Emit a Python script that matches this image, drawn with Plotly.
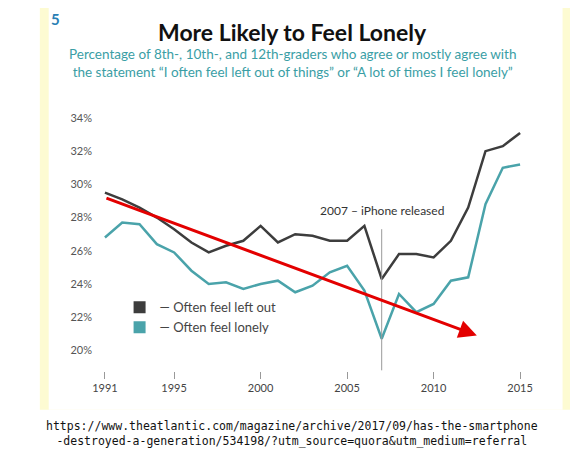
import plotly.graph_objects as go

years = list(range(1991, 2016))
left_out = [29.5, 29.1, 28.6, 28.0, 27.3, 26.5, 25.9, 26.3, 26.6, 27.5, 26.5, 27.0, 26.9,
            26.6, 26.6, 27.5, 24.3, 25.8, 25.8, 25.6, 26.6, 28.6, 32.0, 32.3, 33.1]
lonely = [26.8, 27.7, 27.6, 26.4, 25.9, 24.8, 24.0, 24.1, 23.7, 24.0, 24.2, 23.5, 23.9,
          24.7, 25.1, 23.6, 20.7, 23.4, 22.3, 22.8, 24.2, 24.4, 28.8, 31.0, 31.2]
y_ticks = [20, 22, 24, 26, 28, 30, 32, 34]
y_labels = [f"{v}%" for v in y_ticks]
x_ticks = [1991, 1995, 2000, 2005, 2010, 2015]

dark = "#3d3d3d"
teal = "#4aa3aa"

fig = go.Figure()
fig.add_trace(go.Scatter(x=years, y=left_out, mode="lines", line=dict(color=dark, width=2.5),
                         showlegend=False))
fig.add_trace(go.Scatter(x=years, y=lonely, mode="lines", line=dict(color=teal, width=2.5),
                         showlegend=False))
# legend swatches
fig.add_trace(go.Scatter(x=[None], y=[None], mode="markers", name="— Often feel left out",
                         marker=dict(symbol="square", size=15, color=dark)))
fig.add_trace(go.Scatter(x=[None], y=[None], mode="markers", name="— Often feel lonely",
                         marker=dict(symbol="square", size=15, color=teal)))

# cream background panel + white chart panel
fig.add_shape(type="rect", xref="paper", yref="paper", x0=-0.12, x1=1.095, y0=-0.145, y1=1.36,
              fillcolor="#fdfbd2", line_width=0, layer="below")
fig.add_shape(type="rect", xref="paper", yref="paper", x0=-0.1, x1=1.06, y0=-0.145, y1=1.36,
              fillcolor="white", line_width=0, layer="below")

fig.add_shape(type="line", x0=2007, x1=2007, y0=18.8, y1=27.3, line=dict(color="#999", width=1))
fig.add_annotation(x=2007, y=28.4, text="2007 – iPhone released", showarrow=False,
                   font=dict(size=12, color="#333"))

# red trend arrow
fig.add_annotation(x=2012.5, y=20.9, ax=1991, ay=29.2, xref="x", yref="y", axref="x", ayref="y",
                   text="", showarrow=True, arrowhead=2, arrowsize=1.2, arrowwidth=3,
                   arrowcolor="#e30000")

fig.add_annotation(xref="paper", yref="paper", x=-0.1, y=1.355, text="<b>5</b>", showarrow=False,
                   xanchor="left", yanchor="top", font=dict(size=15, color="#2a7fb5"))
fig.add_annotation(xref="paper", yref="paper", x=0.45, y=1.325, text="<b>More Likely to Feel Lonely</b>",
                   showarrow=False, yanchor="top", font=dict(size=23, color="#111"))
fig.add_annotation(xref="paper", yref="paper", x=0.45, y=1.22,
                   text="Percentage of 8th-, 10th-, and 12th-graders who agree or mostly agree with<br>"
                        "the statement “I often feel left out of things” or “A lot of times I feel lonely”",
                   showarrow=False, yanchor="top", font=dict(size=13.5, color="#3a9ea5"))

fig.add_annotation(xref="paper", yref="paper", x=0.45, y=-0.17,
                   text="https://www.theatlantic.com/magazine/archive/2017/09/has-the-smartphone<br>"
                        "-destroyed-a-generation/534198/?utm_source=quora&utm_medium=referral",
                   showarrow=False, yanchor="top", font=dict(size=11.5, color="#111", family="DejaVu Sans Mono"))

fig.update_layout(
    width=578, height=473,
    margin=dict(l=85, r=50, t=95, b=110),
    paper_bgcolor="white", plot_bgcolor="white",
    font=dict(family="Lato", color="#555"),
    legend=dict(x=0.06, y=0.2, xanchor="left", yanchor="middle", bgcolor="rgba(0,0,0,0)",
                font=dict(size=13, color="#444"), itemsizing="constant"),
    xaxis=dict(range=[1990.31, 2015.92], tickvals=x_ticks, ticks="outside", ticklen=7,
               tickcolor="#999", showgrid=False, zeroline=False, showline=False,
               tickfont=dict(size=11, color="#444")),
    yaxis=dict(range=[18.76, 34.9], tickvals=y_ticks, ticktext=y_labels, showgrid=False,
               zeroline=False, showline=False, tickfont=dict(size=11, color="#555")),
)

fig.write_html("out.html")
